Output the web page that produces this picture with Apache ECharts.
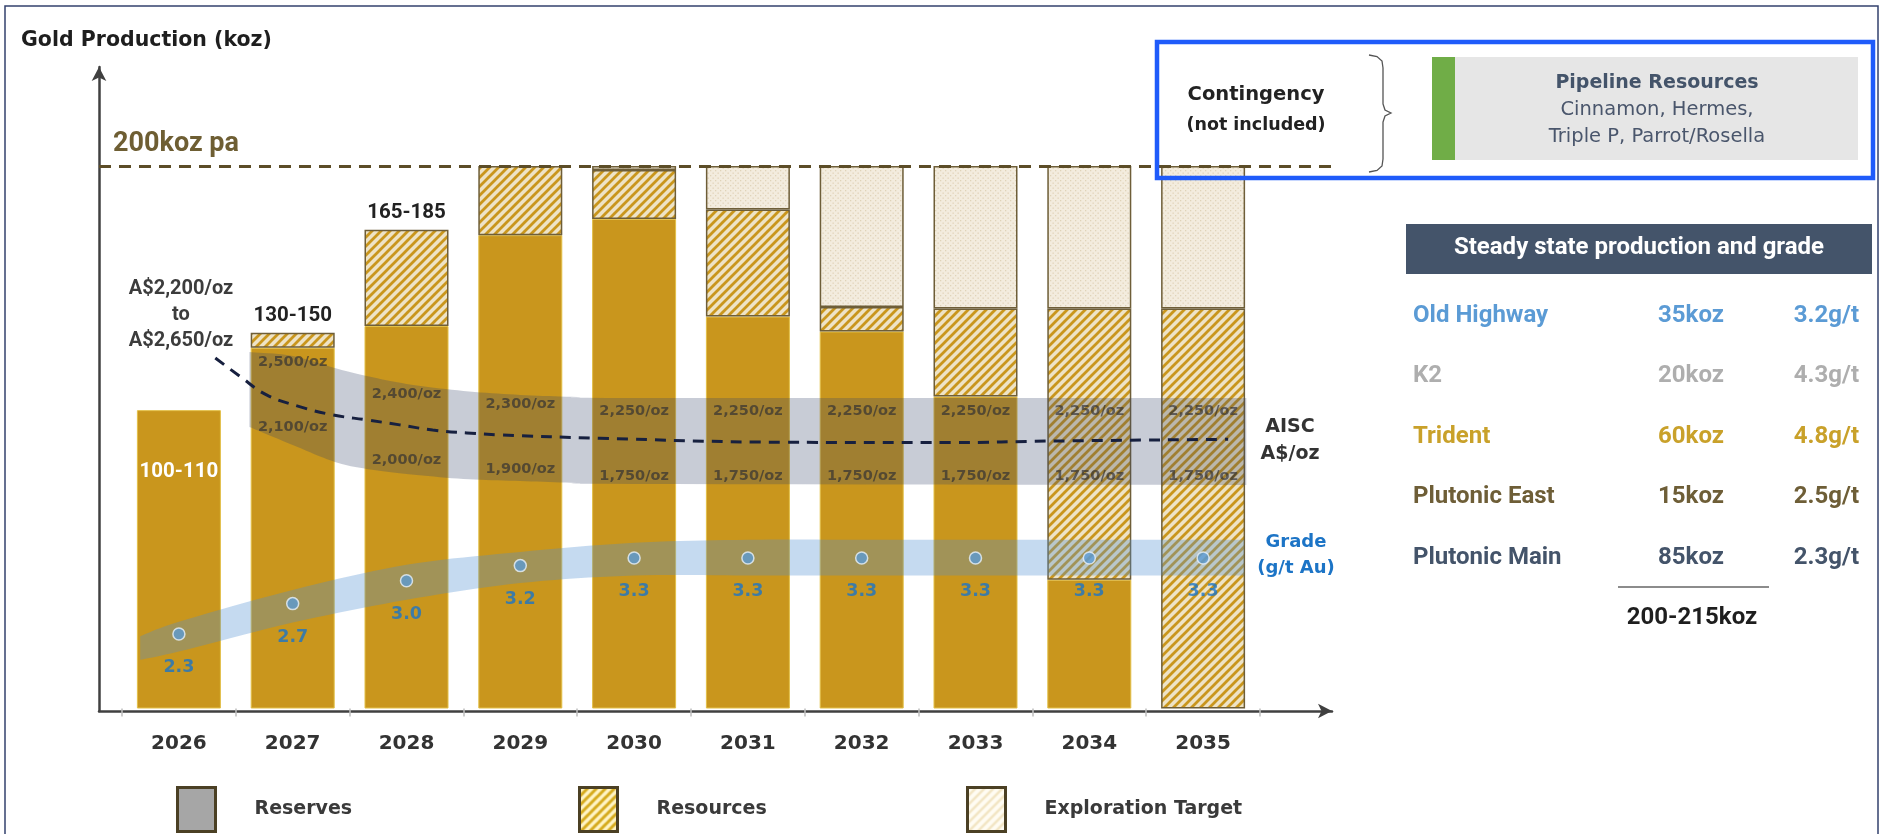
<!DOCTYPE html>
<html>
<head>
<meta charset="utf-8">
<script src="https://cdn.jsdelivr.net/npm/echarts@6/dist/echarts.min.js"></script>
<style>
html,body{margin:0;padding:0;background:#fff;}
#c{width:1881px;height:834px;}
</style>
</head>
<body>
<div id="c"></div>
<script>
// ---------------- data ----------------
const years = ['2026','2027','2028','2029','2030','2031','2032','2033','2034','2035'];
const reserves    = [110, 133, 141, 174.5, 180.5, 144.5, 139, 115, 47.5, 0];
const resources   = [0, 5.5, 35.5, 25.5, 18, 39.5, 9, 32.5, 100, 147.5];
const exploration = [0, 0, 0, 0, 1.5, 16, 52, 52.5, 52.5, 52.5];
const rangeLabels = ['100-110', '130-150', '165-185', '', '', '', '', '', '', ''];
const targetKoz = 200;

const grade = [2.3, 2.7, 3.0, 3.2, 3.3, 3.3, 3.3, 3.3, 3.3, 3.3];
// grade ribbon (g/t), x = category position
const gradeBandX      = [-0.34, 0, 1, 2, 3, 4, 5, 6, 7, 8, 9, 9.36];
const gradeBandTop    = [2.27, 2.46, 2.88, 3.21, 3.38, 3.50, 3.54, 3.54, 3.54, 3.54, 3.54, 3.54];
const gradeBandBottom = [1.96, 2.07, 2.45, 2.75, 2.97, 3.07, 3.07, 3.07, 3.07, 3.07, 3.07, 3.07];

// AISC ribbon (A$/oz scale of the drawing)
const aiscBandX      = [0.62, 1.0, 1.37, 1.65, 2.0, 2.5, 3.0, 3.5, 4.0, 9.38];
const aiscBandTop    = [2520, 2497, 2427, 2381, 2335, 2294, 2271, 2259, 2253, 2253];
const aiscBandBottom = [2085, 1980, 1882, 1841, 1812, 1783, 1771, 1760, 1754, 1748];
const aiscMidX = [0.32, 0.54, 0.77, 1.06, 1.35, 1.65, 1.94, 2.23, 2.53, 2.82, 3.7, 5.3, 6.8, 7.65, 9.22];
const aiscMid  = [2485, 2377, 2271, 2203, 2155, 2126, 2097, 2067, 2050, 2039, 2019, 1996, 1994, 2003, 2013];
const aiscHighText = ['', '2,500/oz', '2,400/oz', '2,300/oz', '2,250/oz', '2,250/oz', '2,250/oz', '2,250/oz', '2,250/oz', '2,250/oz'];
const aiscLowText  = ['', '2,100/oz', '2,000/oz', '1,900/oz', '1,750/oz', '1,750/oz', '1,750/oz', '1,750/oz', '1,750/oz', '1,750/oz'];
const aiscHighPos  = [null, 2462, 2276, 2218, 2174, 2174, 2174, 2174, 2174, 2174];
const aiscLowPos   = [null, 2081, 1893, 1841, 1796, 1796, 1796, 1796, 1796, 1796];

// right-hand table
const assetNames  = ['Old Highway', 'K2', 'Trident', 'Plutonic East', 'Plutonic Main'];
const assetKoz    = ['35koz', '20koz', '60koz', '15koz', '85koz'];
const assetGrade  = ['3.2g/t', '4.3g/t', '4.8g/t', '2.5g/t', '2.3g/t'];
const totalText   = '200-215koz';
const pipelineLines = ['Pipeline Resources', 'Cinnamon, Hermes,', 'Triple P, Parrot/Rosella'];

// ---------------- styles ----------------
const assetColors = ['#5B9BD5', '#AEAEAE', '#C9A12A', '#6E5E37', '#44546A'];
const GOLD = '#C9961D';
const DJ = '"DejaVu Sans"';
const RB = 'Roboto';

function stripe(bg, fg, size, lw) {
  const c = document.createElement('canvas');
  c.width = size; c.height = size;
  const g = c.getContext('2d');
  g.fillStyle = bg; g.fillRect(0, 0, size, size);
  g.strokeStyle = fg; g.lineWidth = lw; g.lineCap = 'square';
  g.beginPath();
  g.moveTo(0, size); g.lineTo(size, 0);
  g.moveTo(-size / 2, size / 2); g.lineTo(size / 2, -size / 2);
  g.moveTo(size / 2, size * 1.5); g.lineTo(size * 1.5, size / 2);
  g.stroke();
  return { image: c, repeat: 'repeat' };
}
function dots(bg, fg, size) {
  const c = document.createElement('canvas');
  c.width = size; c.height = size;
  const g = c.getContext('2d');
  g.fillStyle = bg; g.fillRect(0, 0, size, size);
  g.fillStyle = fg;
  g.fillRect(0, 0, 1.3, 1.3);
  g.fillRect(size / 2, size / 2, 1.3, 1.3);
  return { image: c, repeat: 'repeat' };
}
const resPattern = stripe('#EEE3C6', GOLD, 9, 2.8);
const expPattern = dots('#F3ECDE', '#E0D3B8', 5);
const resLegend = stripe('#FFF4C4', '#D5AA1C', 9, 3);
const expLegend = stripe('#FFFCF3', '#F2E5C4', 9, 2.5);

// Catmull-Rom smoothing of pixel points (rendering only)
function smoothPath(pts, n) {
  const out = [];
  for (let i = 0; i < pts.length - 1; i++) {
    const p0 = pts[Math.max(i - 1, 0)], p1 = pts[i], p2 = pts[i + 1], p3 = pts[Math.min(i + 2, pts.length - 1)];
    for (let k = 0; k < n; k++) {
      const t = k / n, t2 = t * t, t3 = t2 * t;
      const f = function (a) {
        return 0.5 * (2 * p1[a] + (-p0[a] + p2[a]) * t + (2 * p0[a] - 5 * p1[a] + 4 * p2[a] - p3[a]) * t2 +
          (-p0[a] + 3 * p1[a] - 3 * p2[a] + p3[a]) * t3);
      };
      out.push([f(0), f(1)]);
    }
  }
  out.push(pts[pts.length - 1]);
  return out;
}
function ribbonSeries(name, xs, tops, bottoms, yAxisIndex, fill) {
  return {
    name: name, type: 'custom', xAxisIndex: 1, yAxisIndex: yAxisIndex, z: 3, silent: true,
    encode: { x: 0, y: [1, 2] },
    data: xs.map(function (x, i) { return [x, tops[i], bottoms[i]]; }),
    renderItem: function (params, api) {
      if (params.dataIndex !== 0) return null;
      const top = xs.map(function (x, i) { return api.coord([x, tops[i]]); });
      const bot = xs.map(function (x, i) { return api.coord([x, bottoms[i]]); });
      const pts = smoothPath(top, 10).concat(smoothPath(bot, 10).reverse());
      return { type: 'polygon', shape: { points: pts }, style: { fill: fill } };
    }
  };
}

const chart = echarts.init(document.getElementById('c'), null, { renderer: 'canvas' });

function txt(text, x, y, font, fill, align) {
  return { type: 'text', silent: true, z: 50, x: x, y: y,
    style: { text: text, font: font, fill: fill, align: align || 'center', textAlign: align || 'center',
             verticalAlign: 'middle', textVerticalAlign: 'middle' } };
}

const graphic = [
  { type: 'rect', silent: true, z: 60, shape: { x: 5, y: 6, width: 1873, height: 840 },
    style: { fill: 'none', stroke: '#33416E', lineWidth: 1.5 } },
  txt('Gold Production (koz)', 21, 41, 'bold 20.5px ' + DJ, '#1E1E1E', 'left'),
  txt('200koz pa', 113, 144, 'bold 27px ' + RB, '#6E5E33', 'left'),
  txt('A$2,200/oz', 181, 289, 'bold 20px ' + RB, '#3C3C3C'),
  txt('to', 181, 315, 'bold 20px ' + RB, '#3C3C3C'),
  txt('A$2,650/oz', 181, 341, 'bold 20px ' + RB, '#3C3C3C'),
  txt('AISC', 1290, 427, 'bold 19px ' + DJ, '#333333'),
  txt('A$/oz', 1290, 454, 'bold 19px ' + DJ, '#333333'),
  txt('Grade', 1296, 542, 'bold 18px ' + DJ, '#1C74C6'),
  txt('(g/t Au)', 1296, 568, 'bold 18px ' + DJ, '#1C74C6'),
  // contingency box
  { type: 'rect', silent: true, z: 55, shape: { x: 1157, y: 42, width: 716, height: 136 },
    style: { fill: 'none', stroke: '#1F5BFA', lineWidth: 4.5 } },
  txt('Contingency', 1256, 95, 'bold 19.5px ' + DJ, '#222222'),
  txt('(not included)', 1256, 125, 'bold 17.5px ' + DJ, '#222222'),
  { type: 'polyline', silent: true, z: 50,
    shape: { points: [[1369,55],[1377,56.5],[1382,61],[1383,68],[1383,104],[1385,110],[1391,113],[1385,116],[1383,122],[1383,159],[1382,166],[1377,170.5],[1369,172]] },
    style: { fill: 'none', stroke: '#555555', lineWidth: 1.3 } },
  { type: 'rect', silent: true, z: 50, shape: { x: 1432, y: 57, width: 23, height: 103 }, style: { fill: '#70AD47' } },
  { type: 'rect', silent: true, z: 50, shape: { x: 1455, y: 57, width: 403, height: 103 }, style: { fill: '#E6E6E6' } },
  txt(pipelineLines[0], 1657, 83, 'bold 19px ' + DJ, '#44546A'),
  txt(pipelineLines[1], 1657, 110, '19.5px ' + DJ, '#4A566C'),
  txt(pipelineLines[2], 1657, 137, '19.5px ' + DJ, '#4A566C'),
  // table
  { type: 'rect', silent: true, z: 50, shape: { x: 1406, y: 224, width: 466, height: 50 }, style: { fill: '#44546A' } },
  txt('Steady state production and grade', 1639, 248, 'bold 24px ' + RB, '#FFFFFF'),
  { type: 'line', silent: true, z: 50, shape: { x1: 1618, y1: 587, x2: 1769, y2: 587 },
    style: { stroke: '#666666', lineWidth: 1.5 } },
  txt(totalText, 1692, 618, 'bold 24px ' + RB, '#1E1E1E')
];
const rowY = [316, 376, 437, 497, 558];
assetNames.forEach(function (n, i) {
  graphic.push(txt(n, 1413, rowY[i], 'bold 24px ' + RB, assetColors[i], 'left'));
  graphic.push(txt(assetKoz[i], 1724, rowY[i], 'bold 24px ' + RB, assetColors[i], 'right'));
  graphic.push(txt(assetGrade[i], 1859, rowY[i], 'bold 24px ' + RB, assetColors[i], 'right'));
});

const barLabelBase = { fontFamily: RB, fontWeight: 'bold', fontSize: 20.5 };
const reservesData = reserves.map(function (v, i) {
  if (!v) return '-';
  if (i === 0 && rangeLabels[i]) {
    return { value: v, label: Object.assign({ show: true, position: 'insideTop', distance: 51,
      formatter: rangeLabels[i], color: '#FFFFFF' }, barLabelBase) };
  }
  return v;
});
const resourcesData = resources.map(function (v, i) {
  if (!v) return '-';
  if (i > 0 && rangeLabels[i]) {
    return { value: v, label: Object.assign({ show: true, position: 'top', distance: 6,
      formatter: rangeLabels[i], color: '#222222' }, barLabelBase) };
  }
  return v;
});
const explorationData = exploration.map(function (v) { return v ? v : '-'; });

const zip = function (xs, ys) { return xs.map(function (x, i) { return [x, ys[i]]; }); };
const clear = 'rgba(0,0,0,0)';
const aiscLabelStyle = { show: true, position: 'inside', formatter: function (p) { return p.value[2]; },
  color: 'rgba(45,45,50,0.82)', fontFamily: DJ, fontWeight: 'bold', fontSize: 14.5 };

const option = {
  animation: false,
  grid: [
    { left: 122, right: 621, top: 67, bottom: 125.5 },
    { left: 99, right: 549, top: 67, bottom: 123 }
  ],
  xAxis: [
    { type: 'category', gridIndex: 0, data: years, boundaryGap: true,
      axisLine: { show: false },
      axisTick: { show: true, interval: 0, length: 8, lineStyle: { color: '#BFBFBF', width: 1.5 } },
      axisLabel: { margin: 25, color: '#333333', fontFamily: DJ, fontWeight: 'bold', fontSize: 20 },
      splitLine: { show: false } },
    { type: 'value', gridIndex: 0, min: -0.5, max: 9.5, show: false },
    { type: 'value', gridIndex: 1, min: 0, max: 1,
      axisLine: { show: true, symbol: ['none', 'arrow'], symbolSize: [11, 14], lineStyle: { color: '#404040', width: 2.5 } },
      axisTick: { show: false }, axisLabel: { show: false }, splitLine: { show: false } }
  ],
  yAxis: [
    { type: 'value', gridIndex: 0, min: 0, max: 236.5, show: false },
    { type: 'value', gridIndex: 0, min: 1.32, max: 9.76, show: false },
    { type: 'value', gridIndex: 0, min: 450, max: 4175, show: false },
    { type: 'value', gridIndex: 1, min: 0, max: 236.3,
      axisLine: { show: true, symbol: ['none', 'arrow'], symbolSize: [11, 14], lineStyle: { color: '#404040', width: 2.5 } },
      axisTick: { show: false }, axisLabel: { show: false }, splitLine: { show: false } }
  ],
  legend: [
    { left: 171, top: 781, itemWidth: 38, itemHeight: 44, selectedMode: false,
      textStyle: { color: '#3A3A3A', fontFamily: DJ, fontWeight: 'bold', fontSize: 19, padding: [0, 0, 0, 34] },
      data: [{ name: 'Reserves', icon: 'rect', itemStyle: { color: '#A6A6A6', borderColor: '#4B4024', borderWidth: 3 } }] },
    { left: 573, top: 781, itemWidth: 38, itemHeight: 44, selectedMode: false,
      textStyle: { color: '#3A3A3A', fontFamily: DJ, fontWeight: 'bold', fontSize: 19, padding: [0, 0, 0, 34] },
      data: [{ name: 'Resources', icon: 'rect', itemStyle: { color: resLegend, borderColor: '#4B4024', borderWidth: 3 } }] },
    { left: 961, top: 781, itemWidth: 38, itemHeight: 44, selectedMode: false,
      textStyle: { color: '#3A3A3A', fontFamily: DJ, fontWeight: 'bold', fontSize: 19, padding: [0, 0, 0, 34] },
      data: [{ name: 'Exploration Target', icon: 'rect', itemStyle: { color: expLegend, borderColor: '#4B4024', borderWidth: 3 } }] }
  ],
  graphic: graphic,
  series: [
    { name: 'Reserves', type: 'bar', xAxisIndex: 0, yAxisIndex: 0, stack: 'prod', barWidth: 84, z: 2,
      itemStyle: { color: GOLD, borderColor: '#E3C048', borderWidth: 1 },
      emphasis: { disabled: true }, data: reservesData },
    { name: 'Resources', type: 'bar', xAxisIndex: 0, yAxisIndex: 0, stack: 'prod', barWidth: 84, z: 2,
      itemStyle: { color: resPattern, borderColor: '#6E5E38', borderWidth: 1.5 },
      emphasis: { disabled: true }, data: resourcesData },
    { name: 'Exploration Target', type: 'bar', xAxisIndex: 0, yAxisIndex: 0, stack: 'prod', barWidth: 84, z: 2,
      itemStyle: { color: expPattern, borderColor: '#6E5E38', borderWidth: 1.5 },
      emphasis: { disabled: true }, data: explorationData },

    // AISC ribbon
    ribbonSeries('aiscBand', aiscBandX, aiscBandTop, aiscBandBottom, 2, 'rgba(53,68,105,0.27)'),
    { name: 'aiscHighLabels', type: 'scatter', xAxisIndex: 1, yAxisIndex: 2, symbolSize: 1, z: 4, silent: true,
      itemStyle: { color: clear }, label: aiscLabelStyle,
      data: aiscHighPos.map(function (v, i) { return v === null ? null : [i, v, aiscHighText[i]]; }).filter(Boolean) },
    { name: 'aiscLowLabels', type: 'scatter', xAxisIndex: 1, yAxisIndex: 2, symbolSize: 1, z: 4, silent: true,
      itemStyle: { color: clear }, label: aiscLabelStyle,
      data: aiscLowPos.map(function (v, i) { return v === null ? null : [i, v, aiscLowText[i]]; }).filter(Boolean) },
    { name: 'aiscMid', type: 'line', xAxisIndex: 1, yAxisIndex: 2, smooth: 0.4, symbol: 'none', z: 5, silent: true,
      lineStyle: { color: '#17203F', width: 3, type: [11, 8] }, data: zip(aiscMidX, aiscMid) },

    // grade ribbon
    ribbonSeries('gradeBand', gradeBandX, gradeBandTop, gradeBandBottom, 1, 'rgba(78,142,209,0.33)'),
    { name: 'Grade', type: 'scatter', xAxisIndex: 0, yAxisIndex: 1, symbol: 'circle', symbolSize: 12, z: 6, silent: true,
      itemStyle: { color: '#5B9BD5', borderColor: '#E8F1FA', borderWidth: 1.5 },
      label: { show: true, position: 'bottom', distance: 18, formatter: function (p) { return p.value.toFixed(1); },
        color: '#1A74C8', fontFamily: DJ, fontWeight: 'bold', fontSize: 17.5 },
      data: grade },

    // 200koz target line across the outer axes
    { name: 'target', type: 'line', xAxisIndex: 2, yAxisIndex: 3, data: [], silent: true,
      markLine: { silent: true, symbol: 'none', label: { show: false },
        lineStyle: { color: '#5C4D27', width: 3, type: [12, 8] },
        data: [{ yAxis: targetKoz }] } }
  ]
};
chart.setOption(option);
</script>
</body>
</html>
